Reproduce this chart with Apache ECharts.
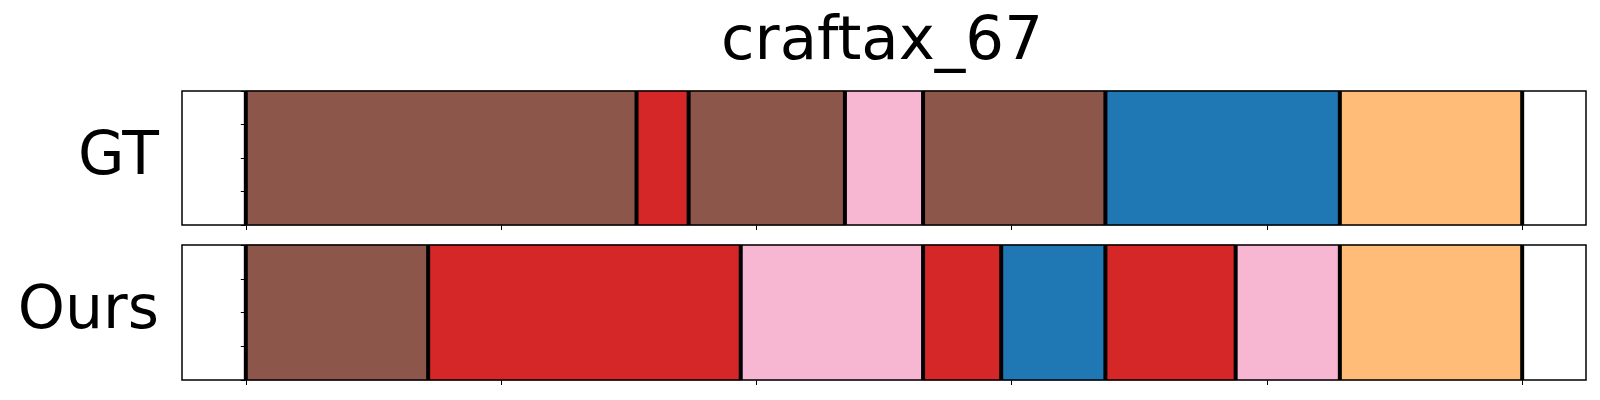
<!DOCTYPE html>
<html>
<head>
<meta charset="utf-8">
<script src="https://cdn.jsdelivr.net/npm/echarts@6/dist/echarts.min.js"></script>
<style>
html,body{margin:0;padding:0;background:#fff;}
#chart{width:1600px;height:400px;}
</style>
</head>
<body>
<div id="chart"></div>
<script>
// ---- data ----
const titleText = 'craftax_67';
const rowNames = ['GT', 'Ours'];
const totalFrames = 49;
const gtBounds = [0, 15, 17, 23, 26, 33, 42, 49];
const gtClasses = ['brown', 'red', 'brown', 'pink', 'brown', 'blue', 'orange'];
const oursBounds = [0, 7, 19, 26, 29, 33, 38, 42, 49];
const oursClasses = ['brown', 'red', 'pink', 'red', 'blue', 'red', 'pink', 'orange'];
const xTickValues = [0, 9.8, 19.6, 29.4, 39.2, 49];
const yTickValues = [0, 0.25, 0.5, 0.75, 1];

const classColors = {
  brown: '#8c564b',
  red: '#d62728',
  pink: '#f7b6d2',
  blue: '#1f77b4',
  orange: '#ffbb78'
};
const edgeColors = {
  brown: '#7d4c43',
  red: '#c42426',
  pink: '#e0a3be',
  blue: '#1c6ba3',
  orange: '#eaab6e'
};

function segData(bounds, classes) {
  const out = [];
  for (let i = 0; i < classes.length; i++) out.push([bounds[i], bounds[i + 1], classes[i]]);
  return out;
}

const chart = echarts.init(document.getElementById('chart'), null, {renderer: 'canvas'});
const FONT = 'DejaVu Sans';
const pad = totalFrames * 0.05;

const grids = [
  {left: 182, right: 14, top: 91, height: 134},
  {left: 182, right: 14, top: 245, height: 135}
].map(g => Object.assign(g, {show: true, borderColor: '#000', borderWidth: 1.5, backgroundColor: 'transparent', containLabel: false, z: 5}));

const xAxes = [0, 1].map(i => ({
  type: 'value', gridIndex: i, min: -pad, max: totalFrames + pad,
  axisLine: {show: false},
  axisTick: {show: true, inside: false, length: 5, customValues: xTickValues, lineStyle: {color: '#000', width: 1}},
  axisLabel: {show: false},
  splitLine: {show: false}
}));

const yAxes = [0, 1].map(i => ({
  type: 'value', gridIndex: i, min: 0, max: 1, interval: 0.25,
  name: rowNames[i], nameLocation: 'middle', nameRotate: 0, nameGap: 23,
  nameTextStyle: {fontFamily: FONT, fontSize: 60, color: '#000', align: 'right', verticalAlign: 'middle', padding: [0, 0, 14, 0]},
  axisLine: {show: false},
  axisTick: {show: true, inside: false, length: 5, customValues: yTickValues, lineStyle: {color: '#000', width: 1}},
  axisLabel: {show: false},
  splitLine: {show: false}
}));

function segSeries(i, bounds, classes) {
  return {
    type: 'custom', xAxisIndex: i, yAxisIndex: i,
    data: segData(bounds, classes),
    renderItem: function (params, api) {
      const p0 = api.coord([api.value(0), 1]);
      const p1 = api.coord([api.value(1), 0]);
      const cls = classes[params.dataIndex];
      return {
        type: 'rect',
        shape: {x: p0[0], y: p0[1], width: p1[0] - p0[0], height: p1[1] - p0[1]},
        style: {fill: classColors[cls], stroke: edgeColors[cls], lineWidth: 1}
      };
    },
    silent: true, z: 2
  };
}

function boundSeries(i, bounds) {
  return {
    type: 'custom', xAxisIndex: i, yAxisIndex: i,
    data: bounds.map(b => [b]),
    renderItem: function (params, api) {
      const a = api.coord([api.value(0), 0]);
      const b = api.coord([api.value(0), 1]);
      return {
        type: 'line',
        shape: {x1: a[0], y1: a[1], x2: b[0], y2: b[1]},
        style: {stroke: '#000', lineWidth: 4}
      };
    },
    silent: true, z: 3
  };
}

chart.setOption({
  animation: false,
  backgroundColor: '#fff',
  title: {
    text: titleText, left: 877, top: 8, textAlign: 'center',
    textStyle: {fontFamily: FONT, fontSize: 61, fontWeight: 'normal', color: '#000'}
  },
  grid: grids,
  xAxis: xAxes,
  yAxis: yAxes,
  series: [
    segSeries(0, gtBounds, gtClasses),
    boundSeries(0, gtBounds),
    segSeries(1, oursBounds, oursClasses),
    boundSeries(1, oursBounds)
  ]
});
</script>
</body>
</html>
